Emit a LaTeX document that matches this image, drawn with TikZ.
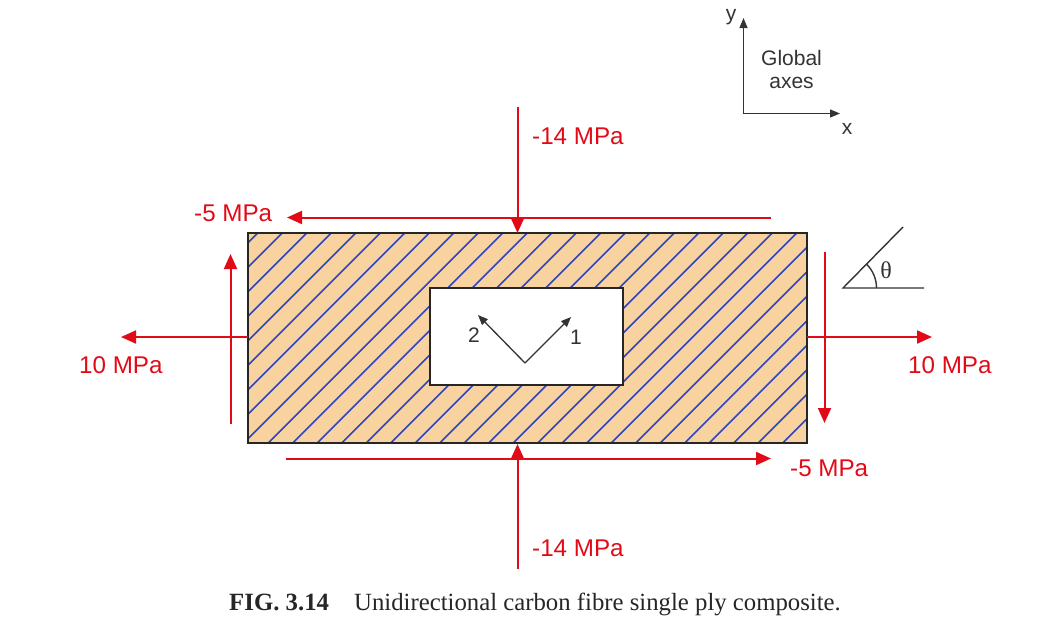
\documentclass[tikz,border=0pt]{standalone}
\usepackage{fontspec}
\setmainfont{Liberation Sans}
\newfontfamily\capfont{Liberation Serif}
\usetikzlibrary{arrows.meta}
\definecolor{loadred}{HTML}{E30A17}
\definecolor{platefill}{HTML}{F8D3A0}
\definecolor{fibreblue}{HTML}{2F45BE}
\definecolor{inkgrey}{HTML}{333333}
\tikzset{
  loadarrow/.style={draw=loadred,line width=2pt,-{Triangle[length=15pt,width=13pt]}},
  thinarrow/.style={draw=inkgrey,line width=1.3pt,-{Triangle[length=10pt,width=8pt]}},
  loadlabel/.style={text=loadred,font=\fontsize{24.2}{26}\selectfont,inner sep=0pt},
  inklabel/.style={text=inkgrey,font=\fontsize{21}{24}\selectfont,inner sep=0pt},
  fibre/.style={draw=fibreblue,line width=1.7pt},
  outline/.style={draw=black!85,line width=2.2pt},
  anglemark/.style={draw=inkgrey,line width=1.4pt},
  captiontext/.style={text=black!85,inner sep=0pt,anchor=base west}
}
\begin{document}
\begin{tikzpicture}[x=1pt,y=-1pt]
\useasboundingbox (0,0) rectangle (1040,638);
% plate
\node[fill=platefill,minimum width=558pt,minimum height=209.5pt,inner sep=0pt] (plate) at (527.5,338.25) {};
\begin{scope}
  \clip (plate.south west) rectangle (plate.north east);
  \foreach \k in {0,...,30} {
    \pgfmathsetmacro{\s}{490.7+24.5*\k}
    \draw[fibre] ({\s-445},445) -- ({\s-230},230);
  }
\end{scope}
\draw[outline] (plate.south west) rectangle (plate.north east);
\node[fill=white,draw=black!85,line width=2.2pt,minimum width=193pt,minimum height=97pt,inner sep=0pt] (window) at (526.75,336.5) {};
% load arrow ends
\coordinate (topstart) at (517.5,107);
\coordinate (topend) at (517.5,233);
\coordinate (botstart) at (517.5,569);
\coordinate (botend) at (517.5,444);
\coordinate (leftstart) at (248,337);
\coordinate (leftend) at (121,337);
\coordinate (rightstart) at (807,337);
\coordinate (rightend) at (932,337);
\coordinate (stopstart) at (771,217.5);
\coordinate (stopend) at (287,217.5);
\coordinate (sbotstart) at (286,458.5);
\coordinate (sbotend) at (771,458.5);
\coordinate (sleftstart) at (230.5,424);
\coordinate (sleftend) at (230.5,254);
\coordinate (srightstart) at (824.5,252);
\coordinate (srightend) at (824.5,423);
\draw[loadarrow] (topstart) -- (topend);
\draw[loadarrow] (botstart) -- (botend);
\draw[loadarrow] (leftstart) -- (leftend);
\draw[loadarrow] (rightstart) -- (rightend);
\draw[loadarrow] (stopstart) -- (stopend);
\draw[loadarrow] (sbotstart) -- (sbotend);
\draw[loadarrow] (sleftstart) -- (sleftend);
\draw[loadarrow] (srightstart) -- (srightend);
% load labels
\node[loadlabel,anchor=west] (ltop) at (532,136.5) {-14 MPa};
\node[loadlabel,anchor=west] (lbot) at (532,548.5) {-14 MPa};
\node[loadlabel,anchor=west] (lstop) at (194,213.5) {-5 MPa};
\node[loadlabel,anchor=west] (lsbot) at (790,468.5) {-5 MPa};
\node[loadlabel,anchor=west] (lleft) at (79,365.5) {10 MPa};
\node[loadlabel,anchor=west] (lright) at (908,365.5) {10 MPa};
% local axes
\coordinate (localo) at (525,363);
\coordinate (local1) at (571,317);
\coordinate (local2) at (478,315);
\draw[thinarrow] (localo) -- (local1);
\draw[thinarrow] (localo) -- (local2);
\node[inklabel] (one) at (576,337) {1};
\node[inklabel] (two) at (474,335) {2};
% global axes
\coordinate (globo) at (743.5,113.5);
\coordinate (globy) at (743.5,18);
\coordinate (globx) at (840,113.5);
\draw[thinarrow,line cap=round] (globo) -- (globy);
\draw[thinarrow,line cap=round] (globo) -- (globx);
\node[inklabel] (ylabel) at (731,17) {y};
\node[inklabel] (xlabel) at (847,128.5) {x};
\node[inklabel] (glob) at (791.5,57.5) {Global};
\node[inklabel] (axes) at (791.5,82.5) {axes};
% angle
\coordinate (ango) at (843,288);
\coordinate (angh) at (924,288);
\coordinate (angd) at (903,227);
\draw[anglemark] (angh) -- (ango) -- (angd);
\draw[anglemark] (876.5,288) arc[start angle=0,end angle=-45,radius=33.5];
\node[inklabel,font=\capfont\fontsize{24}{26}\selectfont] (theta) at (886,270) {θ};
% caption
\node[captiontext,font=\capfont\bfseries\fontsize{24.8}{28}\selectfont] (figno) at (229,610) {FIG. 3.14};
\node[captiontext,font=\capfont\fontsize{24.75}{28}\selectfont] (captext) at (354,610) {Unidirectional carbon fibre single ply composite.};
\end{tikzpicture}
\end{document}
